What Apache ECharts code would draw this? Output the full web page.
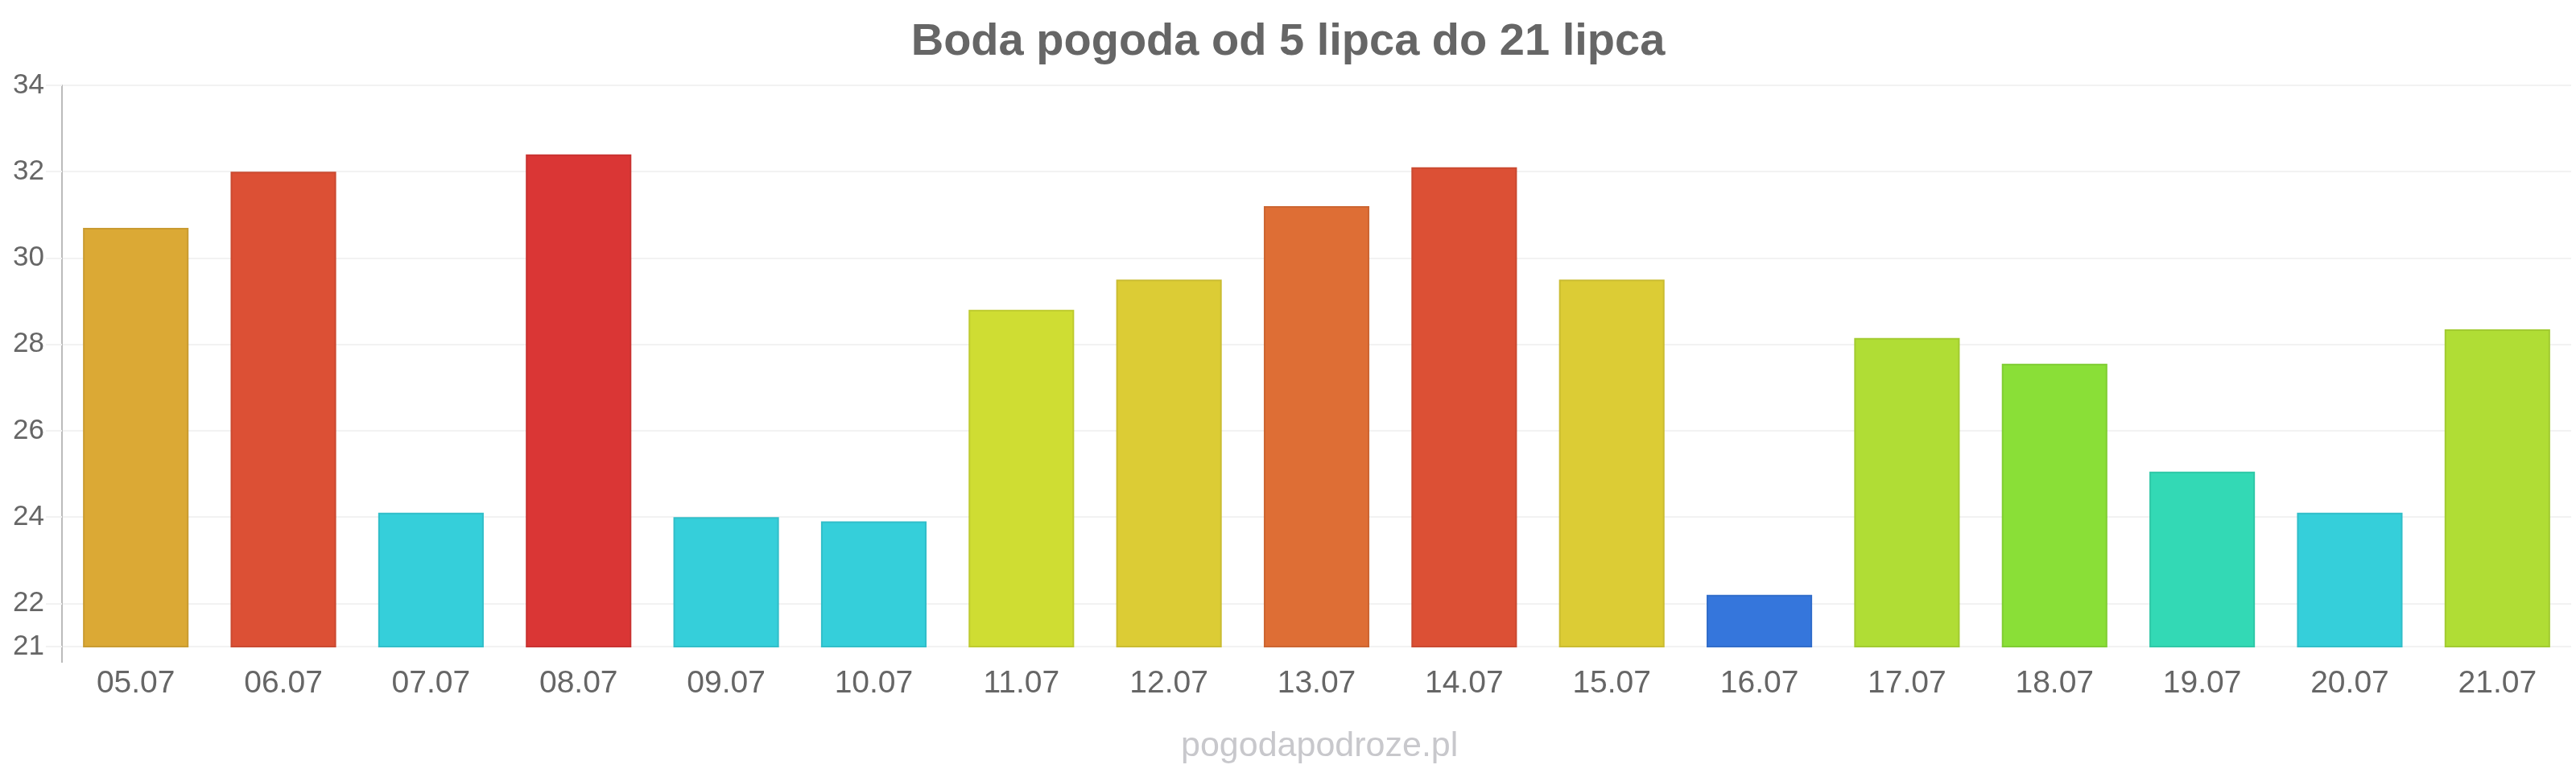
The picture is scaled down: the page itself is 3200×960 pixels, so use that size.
<!DOCTYPE html>
<html>
<head>
<meta charset="utf-8">
<title>Boda pogoda</title>
<script src="https://cdn.jsdelivr.net/npm/echarts@6/dist/echarts.min.js"></script>
<style>
    html, body { margin: 0; padding: 0; background: #fff; }
    #chart { width: 3200px; height: 960px; }
</style>
</head>
<body>
<div id="chart"></div>
<script>
    // dni i temperatury maksymalne
    const days = ['05.07', '06.07', '07.07', '08.07', '09.07', '10.07', '11.07', '12.07', '13.07',
        '14.07', '15.07', '16.07', '17.07', '18.07', '19.07', '20.07', '21.07'];
    const temps = [30.7, 32.0, 24.1, 32.4, 24.0, 23.9, 28.8, 29.5, 31.2,
        32.1, 29.5, 22.2, 28.15, 27.55, 25.05, 24.1, 28.35];
    const barColors = ['#dba935', '#dc5035', '#35cfda', '#da3635', '#35cfda', '#35cfda', '#cfdd33', '#dccc35', '#de6e35',
        '#dc5035', '#dccc35', '#3576dc', '#b0dd35', '#8adf37', '#33d9b5', '#35cfda', '#b0dd35'];
    const yTicks = [21, 22, 24, 26, 28, 30, 32, 34];

    const chart = echarts.init(document.getElementById('chart'));

    // ciemniejsza ramka słupka
    function darker(hex, f) {
        let n = parseInt(hex.slice(1), 16);
        let r = Math.round(((n >> 16) & 255) * f),
            g = Math.round(((n >> 8) & 255) * f),
            b = Math.round((n & 255) * f);
        return 'rgb(' + r + ',' + g + ',' + b + ')';
    }

    chart.setOption({
        animation: false,
        textStyle: { fontFamily: 'Liberation Sans, Arial, sans-serif' },
        title: [
            {
                text: 'Boda pogoda od 5 lipca do 21 lipca',
                left: 'center',
                top: 20,
                textStyle: { fontSize: 56, fontWeight: 'bold', color: '#666' }
            },
            {
                text: 'pogodapodroze.pl',
                left: 1462,
                top: 901,
                textStyle: { fontSize: 43, fontWeight: 'normal', color: '#c8c8cc' }
            }
        ],
        grid: { left: 77, right: 6, top: 106, bottom: 157 },
        // oś Y wystaje trochę pod wykres
        graphic: [{
            type: 'line',
            silent: true,
            shape: { x1: 77, y1: 803, x2: 77, y2: 823 },
            style: { stroke: '#bbb', lineWidth: 2 }
        }],
        xAxis: {
            type: 'category',
            data: days,
            axisLine: { show: false },
            axisTick: { show: false },
            axisLabel: { color: '#666', fontSize: 39, margin: 27 }
        },
        yAxis: {
            type: 'value',
            min: 21,
            max: 34,
            interval: 1,
            axisLine: { show: true, lineStyle: { color: '#bbb', width: 2 } },
            axisTick: { show: true, length: 20, customValues: yTicks, lineStyle: { color: '#f2f2f2', width: 2 } },
            axisLabel: { color: '#666', fontSize: 35, margin: 22, customValues: yTicks },
            splitLine: { show: true, lineStyle: { color: '#f2f2f2', width: 2 } }
        },
        series: [{
            type: 'bar',
            barCategoryGap: '28.5%',
            data: temps.map((v, i) => ({
                value: v,
                itemStyle: { color: barColors[i], borderColor: darker(barColors[i], 0.92), borderWidth: 2 }
            }))
        }]
    });
</script>
</body>
</html>
